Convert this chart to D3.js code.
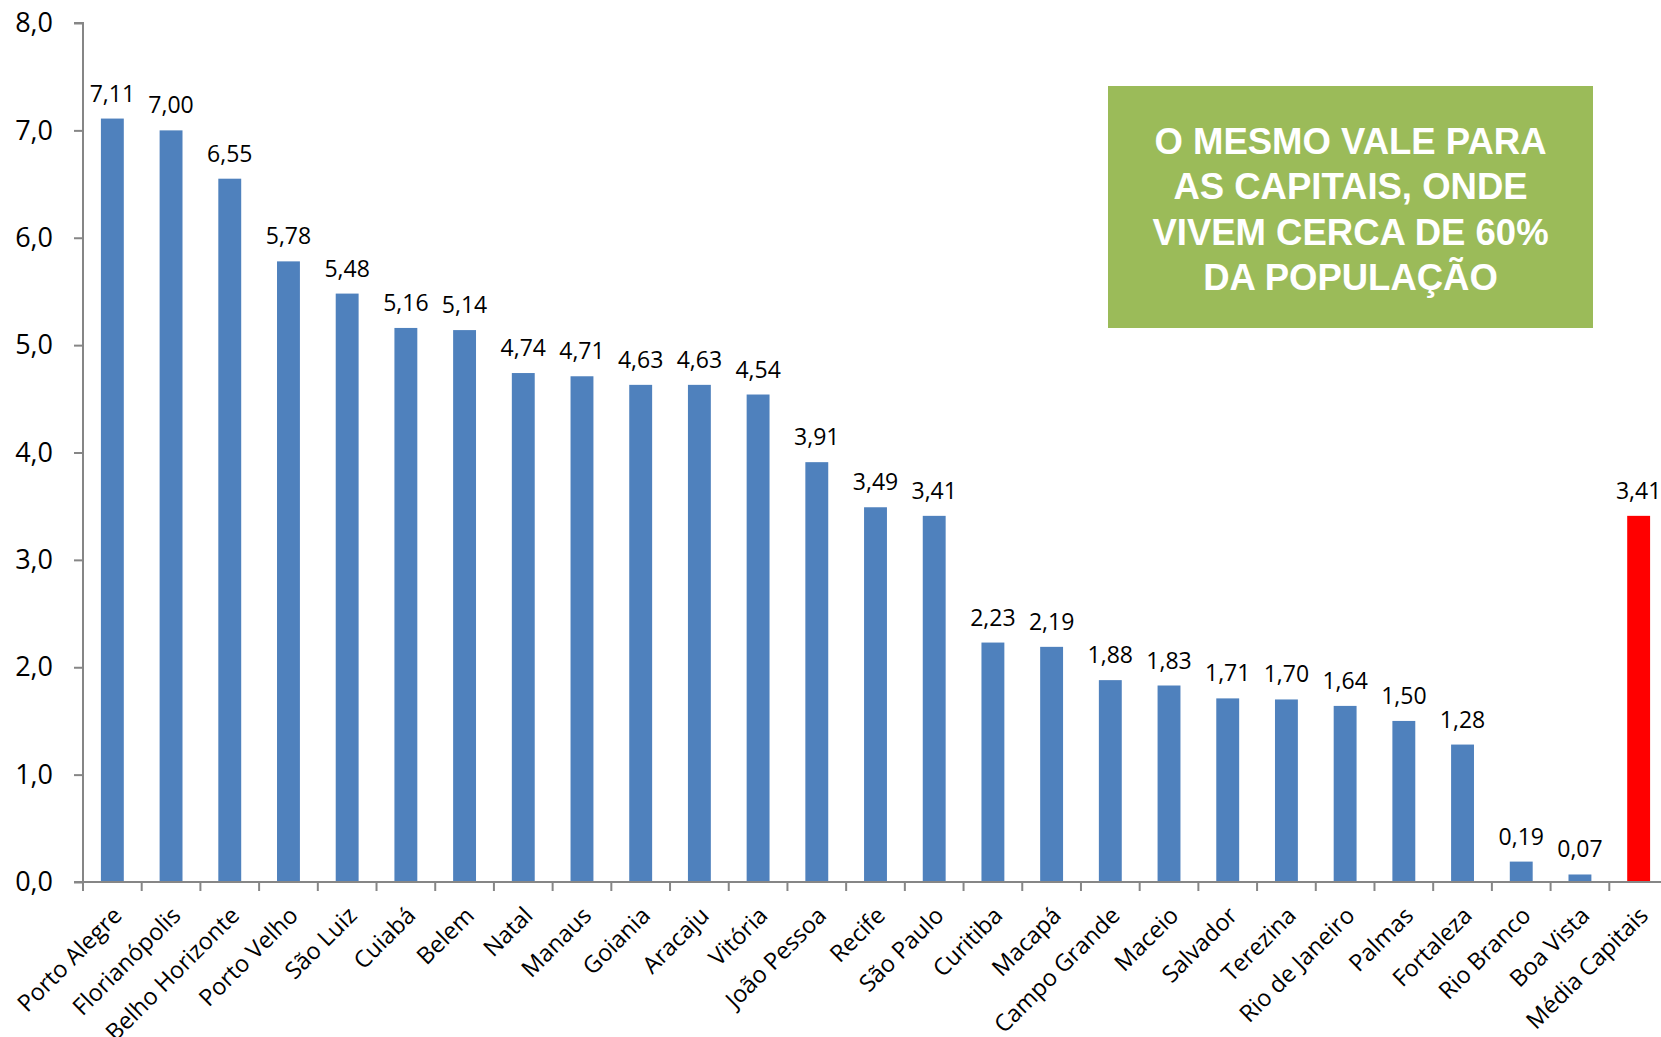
<!DOCTYPE html>
<html>
<head>
<meta charset="utf-8">
<script src="https://cdn.jsdelivr.net/npm/d3@7"></script>
<style>
  body { margin: 0; background: #fff; }
  svg { display: block; }
</style>
</head>
<body>
<div id="chart"></div>
<script>
// categories and values
var cities = ["Porto Alegre", "Florianópolis", "Belho Horizonte", "Porto Velho", "São Luiz", "Cuiabá",
    "Belem", "Natal", "Manaus", "Goiania", "Aracaju", "Vitória", "João Pessoa", "Recife", "São Paulo",
    "Curitiba", "Macapá", "Campo Grande", "Maceio", "Salvador", "Terezina", "Rio de Janeiro", "Palmas",
    "Fortaleza", "Rio Branco", "Boa Vista", "Média Capitais"];
var values = [7.11, 7.00, 6.55, 5.78, 5.48, 5.16, 5.14, 4.74, 4.71, 4.63, 4.63, 4.54, 3.91, 3.49, 3.41,
    2.23, 2.19, 1.88, 1.83, 1.71, 1.70, 1.64, 1.50, 1.28, 0.19, 0.07, 3.41];
var yTicks = [0, 1, 2, 3, 4, 5, 6, 7, 8];
var noteLines = ["O MESMO VALE PARA", "AS CAPITAIS, ONDE", "VIVEM CERCA DE 60%", "DA POPULAÇÃO"];

var width = 1661, height = 1037;
var margin = { top: 23, left: 83, bottom: 155 };
var plotRight = 1668;

var data = cities.map(function (c, i) { return { city: c, value: values[i] }; });
var fmt = function (v, n) { return v.toFixed(n).replace(".", ","); };

var svg = d3.select("#chart")
    .append("svg")
    .attr("width", width)
    .attr("height", height);

var x = d3.scaleBand()
    .domain(cities)
    .range([margin.left, plotRight])
    .paddingInner(0.61)
    .paddingOuter(0.305);

var y = d3.scaleLinear()
    .domain([0, 8])
    .range([height - margin.bottom, margin.top]);

var axisColor = "#868686";
var font = "'Open Sans', sans-serif";

// bars
svg.append("g")
    .selectAll("rect")
    .data(data)
    .enter()
    .append("rect")
    .attr("x", function (d) { return x(d.city); })
    .attr("y", function (d) { return y(d.value); })
    .attr("width", x.bandwidth())
    .attr("height", function (d) { return y(0) - y(d.value); })
    .style("fill", function (d) { return d.city === "Média Capitais" ? "#FF0000" : "#4F81BD"; });

// value labels
svg.append("g")
    .selectAll("text")
    .data(data)
    .enter()
    .append("text")
    .attr("x", function (d) { return x(d.city) + x.bandwidth() / 2; })
    .attr("y", function (d) { return y(d.value) - 17; })
    .attr("text-anchor", "middle")
    .style("font-family", font)
    .style("font-size", "23px")
    .style("fill", "#000")
    .text(function (d) { return fmt(d.value, 2); });

// y axis
var yAxis = svg.append("g")
    .attr("transform", "translate(" + margin.left + ",0)")
    .call(d3.axisLeft(y).tickValues(yTicks).tickSize(9).tickPadding(21)
        .tickFormat(function (d) { return fmt(d, 1); }));
yAxis.select(".domain").attr("stroke", axisColor).attr("stroke-width", 2)
    .attr("d", "M" + (-9) + "," + y(8) + "H0V" + y(0));
yAxis.selectAll(".tick line").attr("stroke", axisColor).attr("stroke-width", 2);
yAxis.selectAll(".tick text")
    .style("font-family", font)
    .style("font-size", "27px")
    .style("fill", "#000");

// x axis with ticks between categories
var xg = svg.append("g")
    .attr("transform", "translate(0," + y(0) + ")");
xg.append("line")
    .attr("x1", margin.left - 9)
    .attr("x2", width)
    .attr("stroke", axisColor)
    .attr("stroke-width", 2);
xg.selectAll("line.tk")
    .data(cities)
    .enter()
    .append("line")
    .attr("class", "tk")
    .attr("x1", function (d) { return x(d) - x.step() * x.paddingInner() / 2; })
    .attr("x2", function (d) { return x(d) - x.step() * x.paddingInner() / 2; })
    .attr("y1", 0)
    .attr("y2", 9)
    .attr("stroke", axisColor)
    .attr("stroke-width", 2);
xg.selectAll("text")
    .data(cities)
    .enter()
    .append("text")
    .attr("transform", function (d) {
        return "translate(" + (x(d) + x.bandwidth() / 2 + 11) + ",35) rotate(-45)";
    })
    .attr("text-anchor", "end")
    .style("font-family", font)
    .style("font-size", "23.5px")
    .style("fill", "#000")
    .text(function (d) { return d; });

// green note box
var box = { x: 1108, y: 86, w: 485, h: 242 };
svg.append("rect")
    .attr("x", box.x)
    .attr("y", box.y)
    .attr("width", box.w)
    .attr("height", box.h)
    .style("fill", "#9BBB59");
svg.append("g")
    .selectAll("text")
    .data(noteLines)
    .enter()
    .append("text")
    .attr("x", box.x + box.w / 2)
    .attr("y", function (d, i) { return 154 + i * 45.3; })
    .attr("text-anchor", "middle")
    .style("font-family", "'Liberation Sans', Arial, sans-serif")
    .style("font-weight", "bold")
    .style("font-size", "36.5px")
    .style("fill", "#fff")
    .text(function (d) { return d; });
</script>
</body>
</html>
